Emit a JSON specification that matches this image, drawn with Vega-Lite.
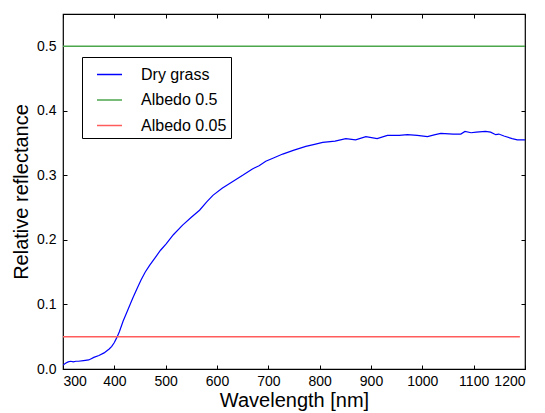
{
  "$schema": "https://vega.github.io/schema/vega-lite/v6.json",
  "width": 462,
  "height": 355,
  "autosize": "none",
  "padding": {"left": 63, "top": 14, "right": 20, "bottom": 44},
  "config": {
    "font": "Liberation Sans",
    "view": {"stroke": "#000000", "strokeWidth": 1.2},
    "axis": {
      "domain": false,
      "grid": false,
      "tickColor": "#000000",
      "tickSize": -4,
      "tickWidth": 1,
      "labelColor": "#000000",
      "labelFont": "Liberation Sans",
      "labelFontSize": 14,
      "labelOverlap": false,
      "titleFont": "Liberation Sans",
      "titleFontSize": 20,
      "titleFontWeight": "normal",
      "titleColor": "#000000"
    }
  },
  "datasets": {
    "grass": [
      {"wavelength": 300, "reflectance": 0.006},
      {"wavelength": 305, "reflectance": 0.009},
      {"wavelength": 310, "reflectance": 0.011},
      {"wavelength": 315, "reflectance": 0.012},
      {"wavelength": 320, "reflectance": 0.011},
      {"wavelength": 325, "reflectance": 0.012},
      {"wavelength": 330, "reflectance": 0.012},
      {"wavelength": 340, "reflectance": 0.013},
      {"wavelength": 350, "reflectance": 0.014},
      {"wavelength": 355, "reflectance": 0.016},
      {"wavelength": 360, "reflectance": 0.018},
      {"wavelength": 370, "reflectance": 0.021},
      {"wavelength": 380, "reflectance": 0.025},
      {"wavelength": 390, "reflectance": 0.031},
      {"wavelength": 395, "reflectance": 0.035},
      {"wavelength": 400, "reflectance": 0.041},
      {"wavelength": 405, "reflectance": 0.049},
      {"wavelength": 410, "reflectance": 0.058},
      {"wavelength": 417, "reflectance": 0.074},
      {"wavelength": 425, "reflectance": 0.089},
      {"wavelength": 436, "reflectance": 0.110},
      {"wavelength": 445, "reflectance": 0.126},
      {"wavelength": 452, "reflectance": 0.138},
      {"wavelength": 460, "reflectance": 0.150},
      {"wavelength": 469, "reflectance": 0.161},
      {"wavelength": 480, "reflectance": 0.173},
      {"wavelength": 490, "reflectance": 0.184},
      {"wavelength": 501, "reflectance": 0.194},
      {"wavelength": 515, "reflectance": 0.208},
      {"wavelength": 533, "reflectance": 0.223},
      {"wavelength": 550, "reflectance": 0.235},
      {"wavelength": 566, "reflectance": 0.246},
      {"wavelength": 580, "reflectance": 0.259},
      {"wavelength": 592, "reflectance": 0.269},
      {"wavelength": 610, "reflectance": 0.280},
      {"wavelength": 630, "reflectance": 0.290},
      {"wavelength": 650, "reflectance": 0.300},
      {"wavelength": 669, "reflectance": 0.310},
      {"wavelength": 682, "reflectance": 0.315},
      {"wavelength": 695, "reflectance": 0.322},
      {"wavelength": 710, "reflectance": 0.327},
      {"wavelength": 728, "reflectance": 0.333},
      {"wavelength": 750, "reflectance": 0.339},
      {"wavelength": 773, "reflectance": 0.345},
      {"wavelength": 790, "reflectance": 0.348},
      {"wavelength": 806, "reflectance": 0.351},
      {"wavelength": 830, "reflectance": 0.353},
      {"wavelength": 851, "reflectance": 0.357},
      {"wavelength": 870, "reflectance": 0.355},
      {"wavelength": 890, "reflectance": 0.360},
      {"wavelength": 912, "reflectance": 0.357},
      {"wavelength": 932, "reflectance": 0.362},
      {"wavelength": 955, "reflectance": 0.362},
      {"wavelength": 971, "reflectance": 0.363},
      {"wavelength": 990, "reflectance": 0.362},
      {"wavelength": 1010, "reflectance": 0.360},
      {"wavelength": 1025, "reflectance": 0.363},
      {"wavelength": 1036, "reflectance": 0.365},
      {"wavelength": 1060, "reflectance": 0.364},
      {"wavelength": 1075, "reflectance": 0.364},
      {"wavelength": 1083, "reflectance": 0.368},
      {"wavelength": 1095, "reflectance": 0.366},
      {"wavelength": 1105, "reflectance": 0.367},
      {"wavelength": 1123, "reflectance": 0.368},
      {"wavelength": 1133, "reflectance": 0.367},
      {"wavelength": 1143, "reflectance": 0.363},
      {"wavelength": 1149, "reflectance": 0.364},
      {"wavelength": 1159, "reflectance": 0.361},
      {"wavelength": 1175, "reflectance": 0.357},
      {"wavelength": 1185, "reflectance": 0.355},
      {"wavelength": 1200, "reflectance": 0.355}
    ],
    "albedo": [
      {"series": "Albedo 0.5", "start": 300, "end": 1200, "value": 0.5},
      {"series": "Albedo 0.05", "start": 300, "end": 1190, "value": 0.05}
    ]
  },
  "layer": [
    {
      "data": {"name": "grass"},
      "mark": {"type": "line", "strokeWidth": 1.2, "clip": true},
      "transform": [{"calculate": "'Dry grass'", "as": "series"}],
      "encoding": {
        "x": {
          "field": "wavelength",
          "type": "quantitative",
          "scale": {"domain": [300, 1200], "nice": false, "zero": false},
          "axis": {"orient": "bottom", "values": [300, 400, 500, 600, 700, 800, 900, 1000, 1100, 1200], "format": "d", "labelPadding": 9, "title": "Wavelength [nm]", "titlePadding": 2}
        },
        "y": {
          "field": "reflectance",
          "type": "quantitative",
          "scale": {"domain": [0, 0.55], "nice": false},
          "axis": {"orient": "left", "values": [0, 0.1, 0.2, 0.3, 0.4, 0.5], "format": ".1f", "labelPadding": 11, "title": "Relative reflectance", "titlePadding": 5}
        },
        "color": {
          "field": "series",
          "type": "nominal",
          "scale": {"domain": ["Dry grass", "Albedo 0.5", "Albedo 0.05"], "range": ["#0000ff", "#4ca64c", "#ff5c5c"]},
          "legend": {
            "title": null,
            "orient": "none",
            "legendX": 19,
            "legendY": 43,
            "symbolType": "stroke",
            "symbolSize": 625,
            "symbolStrokeWidth": 1.5,
            "symbolOffset": 10,
            "labelFontSize": 16,
            "labelColor": "#000000",
            "labelOffset": 18,
            "rowPadding": 3.5,
            "padding": 4,
            "fillColor": "#ffffff",
            "strokeColor": "#000000",
            "cornerRadius": 0
          }
        }
      }
    },
    {
      "data": {"name": "albedo"},
      "mark": {"type": "rule", "strokeWidth": 1.5},
      "encoding": {
        "x": {"field": "start", "type": "quantitative", "axis": {"orient": "top", "values": [300, 400, 500, 600, 700, 800, 900, 1000, 1100, 1200], "labels": false, "title": null}},
        "x2": {"field": "end"},
        "y": {"field": "value", "type": "quantitative", "axis": {"orient": "right", "values": [0, 0.1, 0.2, 0.3, 0.4, 0.5], "labels": false, "title": null}},
        "color": {"field": "series", "type": "nominal"}
      }
    }
  ]
}
